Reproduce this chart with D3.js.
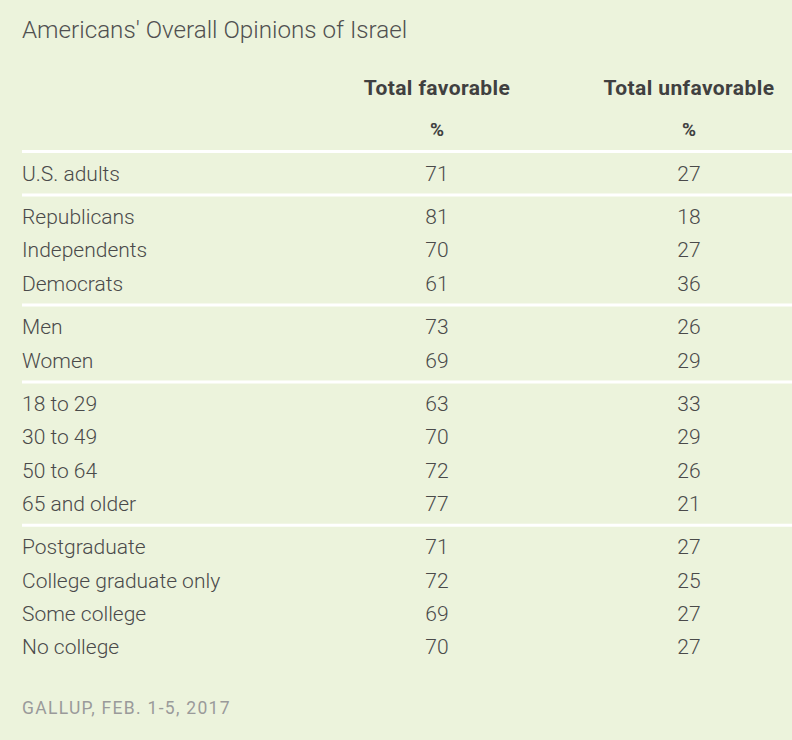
<!DOCTYPE html>
<html>
<head>
<meta charset="utf-8">
<script src="https://cdn.jsdelivr.net/npm/d3@7"></script>
<style>
  html, body { margin: 0; padding: 0; background: #ecf3dc; }
  svg { display: block; }
</style>
</head>
<body>
<div id="chart"></div>
<script>
const title = "Americans' Overall Opinions of Israel";
const columns = ["Total favorable", "Total unfavorable"];
const unitLabel = "%";
const source = "GALLUP, FEB. 1-5, 2017";

const groupOverall = ["U.S. adults"];
const groupParty = ["Republicans", "Independents", "Democrats"];
const groupGender = ["Men", "Women"];
const groupAge = ["18 to 29", "30 to 49", "50 to 64", "65 and older"];
const groupEducation = ["Postgraduate", "College graduate only", "Some college", "No college"];

const favorable = [71, 81, 70, 61, 73, 69, 63, 70, 72, 77, 71, 72, 69, 70];
const unfavorable = [27, 18, 27, 36, 26, 29, 33, 29, 26, 21, 27, 25, 27, 27];

const groups = [groupOverall, groupParty, groupGender, groupAge, groupEducation];

const W = 792, H = 740;
const svg = d3.select("#chart").append("svg").attr("width", W).attr("height", H);
svg.append("rect").attr("width", W).attr("height", H).attr("fill", "#ecf3dc");

const textColor = "#4a4a4a";
const font = "Roboto, 'Noto Sans', Arial, sans-serif";

// Column scale
const xCol = d3.scalePoint().domain(columns).range([437, 689]);

// Build row slots
const pad = 21.75, step = 33.3;
let y = 151.5;
const dividers = [y];
const rows = [];
let idx = 0;
groups.forEach(g => {
  g.forEach((label, i) => {
    rows.push({ label, y: y + pad + i * step, fav: favorable[idx], unf: unfavorable[idx] });
    idx++;
  });
  y = y + 2 * pad + (g.length - 1) * step;
  dividers.push(y);
});
dividers.pop();

// Title
svg.append("text").attr("x", 22).attr("y", 38)
  .attr("font-family", font).attr("font-weight", 300).attr("font-size", 24.2)
  .attr("fill", "#505050").text(title);

// Headers
svg.selectAll("text.hdr").data(columns).join("text").attr("class", "hdr")
  .attr("x", d => xCol(d)).attr("y", 95).attr("text-anchor", "middle")
  .attr("font-family", font).attr("font-weight", 700).attr("font-size", 21)
  .attr("letter-spacing", 0.4)
  .attr("fill", "#404040").text(d => d);
svg.selectAll("text.pct").data(columns).join("text").attr("class", "pct")
  .attr("x", d => xCol(d)).attr("y", 136).attr("text-anchor", "middle")
  .attr("font-family", font).attr("font-weight", 700).attr("font-size", 19)
  .attr("fill", "#404040").text(unitLabel);

// Dividers
svg.selectAll("line.div").data(dividers).join("line").attr("class", "div")
  .attr("x1", 22).attr("x2", W).attr("y1", d => d).attr("y2", d => d)
  .attr("stroke", "#ffffff").attr("stroke-width", 3);

// Rows
const rowG = svg.selectAll("g.row").data(rows).join("g").attr("class", "row")
  .attr("transform", d => `translate(0,${d.y})`);
rowG.append("text").attr("x", 22).attr("dy", "0.35em")
  .attr("font-family", font).attr("font-weight", 300).attr("font-size", 21)
  .attr("fill", textColor).text(d => d.label);
rowG.append("text").attr("x", xCol(columns[0])).attr("dy", "0.35em").attr("text-anchor", "middle")
  .attr("font-family", font).attr("font-weight", 300).attr("font-size", 21)
  .attr("fill", textColor).text(d => d.fav);
rowG.append("text").attr("x", xCol(columns[1])).attr("dy", "0.35em").attr("text-anchor", "middle")
  .attr("font-family", font).attr("font-weight", 300).attr("font-size", 21)
  .attr("fill", textColor).text(d => d.unf);

// Source
svg.append("text").attr("x", 22).attr("y", 714)
  .attr("font-family", font).attr("font-size", 17.5).attr("letter-spacing", 1.3)
  .attr("fill", "#9a9a9a").text(source);
</script>
</body>
</html>
